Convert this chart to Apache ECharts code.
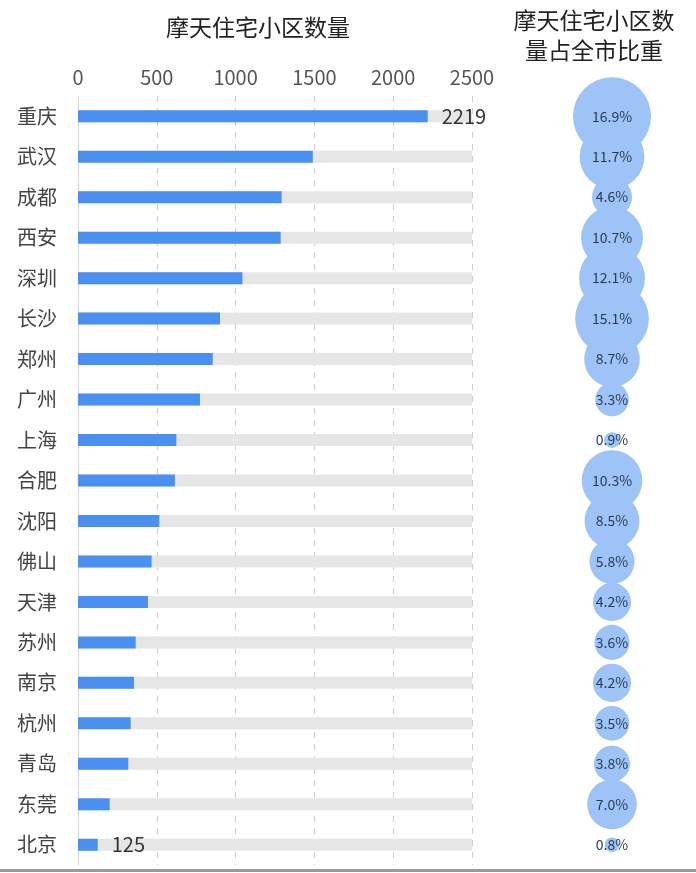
<!DOCTYPE html>
<html>
<head>
<meta charset="utf-8">
<script src="https://cdn.jsdelivr.net/npm/echarts@6/dist/echarts.min.js"></script>
<style>
  html, body { margin: 0; padding: 0; background: #fff; }
  #chart { width: 696px; height: 873px; }
</style>
</head>
<body>
<div id="chart"></div>
<script>
const cities = ['重庆', '武汉', '成都', '西安', '深圳', '长沙', '郑州', '广州', '上海', '合肥',
  '沈阳', '佛山', '天津', '苏州', '南京', '杭州', '青岛', '东莞', '北京']
const counts = [2219, 1490, 1292, 1286, 1043, 901, 855, 774, 624, 615,
  516, 467, 444, 366, 355, 334, 319, 201, 125]
const ratios = [16.9, 11.7, 4.6, 10.7, 12.1, 15.1, 8.7, 3.3, 0.9, 10.3,
  8.5, 5.8, 4.2, 3.6, 4.2, 3.5, 3.8, 7.0, 0.8]
const xTicks = [0, 500, 1000, 1500, 2000, 2500]

const font = '"Noto Sans CJK SC", "Noto Sans", sans-serif'
const chart = echarts.init(document.getElementById('chart'))

// bubble diameter, roughly area-proportional
const bubbleSize = (r) => Math.sqrt(Math.max(365 * r - 80, 60))

const option = {
  animation: false,
  textStyle: { fontFamily: font },
  title: [
    {
      text: '摩天住宅小区数量',
      left: 253, top: 11, textAlign: 'center',
      textStyle: { fontSize: 23, fontWeight: 'normal', color: '#222', fontFamily: font }
    },
    {
      text: '摩天住宅小区数\n量占全市比重',
      left: 589, top: 0, textAlign: 'center',
      textStyle: { fontSize: 23, fontWeight: 'normal', color: '#222', lineHeight: 30, fontFamily: font }
    }
  ],
  grid: [
    { left: 78, right: 224, top: 96, height: 769 },
    { left: 560, width: 104, top: 96, height: 769 }
  ],
  xAxis: [
    {
      gridIndex: 0,
      type: 'value',
      position: 'top',
      min: xTicks[0],
      max: xTicks[xTicks.length - 1],
      interval: xTicks[1] - xTicks[0],
      axisLine: { show: false },
      axisTick: { show: false },
      axisLabel: { fontSize: 20, color: '#555', margin: 9, fontFamily: font, formatter: (v) => String(v) },
      splitLine: { show: true, lineStyle: { type: [6, 6], color: '#cfcfcf', width: 1 } }
    },
    { gridIndex: 1, type: 'value', min: -1, max: 1, show: false }
  ],
  yAxis: [
    {
      gridIndex: 0,
      type: 'category',
      inverse: true,
      data: cities,
      axisLine: { show: true, lineStyle: { color: '#d8d8d8' } },
      axisTick: { show: false },
      axisLabel: { fontSize: 20, color: '#444', margin: 21, fontFamily: font }
    },
    { gridIndex: 1, type: 'category', inverse: true, data: cities, show: false }
  ],
  series: [
    {
      name: '摩天住宅小区数量',
      type: 'bar',
      xAxisIndex: 0,
      yAxisIndex: 0,
      barWidth: 12,
      showBackground: true,
      backgroundStyle: { color: '#e6e6e6' },
      itemStyle: { color: '#4a90f0' },
      data: counts.map((v, i) => ({
        value: v,
        label: {
          show: i === 0 || i === counts.length - 1,
          position: 'right',
          distance: 14,
          fontSize: 20,
          color: '#333',
          fontFamily: font
        }
      }))
    },
    {
      name: '摩天住宅小区数量占全市比重',
      type: 'scatter',
      xAxisIndex: 1,
      yAxisIndex: 1,
      data: ratios.map((r, i) => [0, cities[i], r]),
      symbolSize: (d) => bubbleSize(d[2]),
      itemStyle: { color: '#9ec3f6', opacity: 1 },
      label: {
        show: true,
        position: 'inside',
        formatter: (p) => p.data[2].toFixed(1) + '%',
        fontSize: 14,
        color: '#2b3b57',
        fontFamily: font
      }
    }
  ],
  graphic: [
    {
      type: 'rect',
      shape: { x: 0, y: 869, width: 696, height: 3 },
      style: { fill: '#9a9a9a' }
    }
  ]
}

chart.setOption(option)
</script>
</body>
</html>
